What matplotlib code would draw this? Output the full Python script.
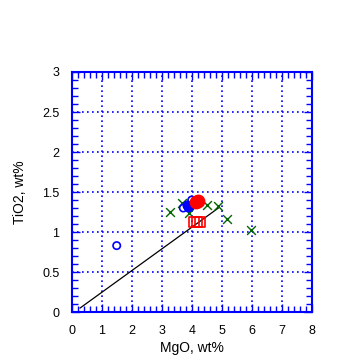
import matplotlib
matplotlib.use("Agg")
import matplotlib.pyplot as plt
from matplotlib.ticker import MultipleLocator, FuncFormatter

plt.rcParams['font.family'] = ['Liberation Sans', 'DejaVu Sans']

# Data
green_x_mgo = [3.28, 3.66, 3.90, 4.49, 4.88, 5.18, 5.98]
green_x_tio2 = [1.25, 1.36, 1.24, 1.34, 1.32, 1.16, 1.03]

blue_open_mgo = [1.49, 3.71, 3.88, 3.99, 3.95]
blue_open_tio2 = [0.83, 1.30, 1.30, 1.40, 1.32]

blue_filled_mgo = [3.82, 3.88]
blue_filled_tio2 = [1.34, 1.33]

red_filled_mgo = [4.12, 4.20]
red_filled_tio2 = [1.37, 1.39]

red_sq_mgo = [4.08, 4.18, 4.28]
red_sq_tio2 = [1.12, 1.12, 1.12]

line_mgo = [0.27, 4.88]
line_tio2 = [0.05, 1.30]

fig = plt.figure(figsize=(3.6, 3.6), dpi=100)
ax = fig.add_axes([0.2, 0.1333, 0.6667, 0.6667])

blue = '#0000ff'
ax.set_xlim(0, 8)
ax.set_ylim(0, 3)
ax.xaxis.set_major_locator(MultipleLocator(1))
ax.xaxis.set_minor_locator(MultipleLocator(0.2))
ax.yaxis.set_major_locator(MultipleLocator(0.5))
ax.yaxis.set_minor_locator(MultipleLocator(0.1))
fmt = FuncFormatter(lambda v, p: '%g' % round(v, 3))
ax.xaxis.set_major_formatter(fmt)
ax.yaxis.set_major_formatter(fmt)
ax.grid(True, which='major', color=blue, linestyle=(0, (1, 2)), linewidth=1.2)
for s in ax.spines.values():
    s.set_color(blue)
    s.set_linewidth(1.5)
ax.tick_params(which='both', direction='in', top=True, right=True, color=blue,
               labelsize=9, labelcolor='black')
ax.tick_params(which='major', length=6, width=1)
ax.tick_params(which='minor', length=4, width=1)
ax.tick_params(axis='x', pad=9)
ax.tick_params(axis='y', pad=9)

ax.plot(line_mgo, line_tio2, color='black', linewidth=0.9, zorder=3)
ax.scatter(green_x_mgo, green_x_tio2, marker='x', color='#006400', s=40, linewidths=1, zorder=4)
ax.scatter(blue_open_mgo, blue_open_tio2, marker='o', facecolors='none', edgecolors=blue, s=28, linewidths=1.2, zorder=4)
ax.scatter(blue_filled_mgo, blue_filled_tio2, marker='o', color=blue, s=40, zorder=5)
ax.scatter(red_filled_mgo, red_filled_tio2, marker='o', color='#ff0000', s=80, zorder=6)
ax.scatter(red_sq_mgo, red_sq_tio2, marker='s', facecolors='none', edgecolors='#ff0000', s=50, linewidths=1.2, zorder=6)

ax.set_xlabel('MgO, wt%', fontsize=10, labelpad=3)
ax.set_ylabel('TiO2, wt%', fontsize=10, labelpad=11)

fig.savefig('out.png', dpi=100)
